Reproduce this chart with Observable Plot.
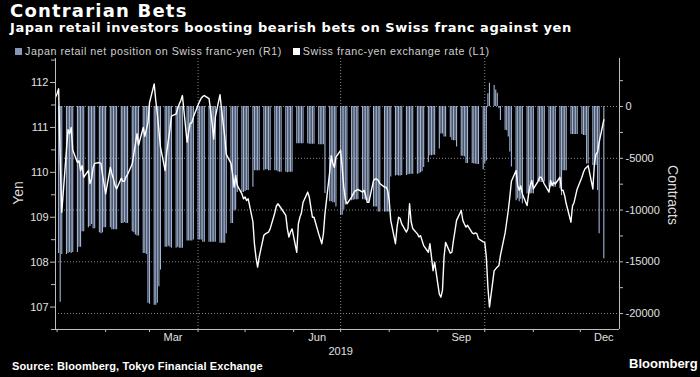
<!DOCTYPE html>
<html><head><meta charset="utf-8">
<script src="https://cdn.jsdelivr.net/npm/d3@7"></script>
<script src="https://cdn.jsdelivr.net/npm/@observablehq/plot@0.6"></script>
<style>
body{margin:0;background:#000;width:700px;height:377px;overflow:hidden;position:relative;font-family:"Liberation Sans",Arial,sans-serif;}
#title{position:absolute;left:10px;top:1px;font:bold 18px/20px "DejaVu Sans",sans-serif;letter-spacing:1.2px;color:#fff;white-space:nowrap;}
#subtitle{position:absolute;left:10px;top:21px;font:bold 13px/13px "DejaVu Sans",sans-serif;letter-spacing:0.55px;color:#fff;white-space:nowrap;}
#legend{position:absolute;left:15px;top:46px;font:10.7px/10.7px "Liberation Sans",sans-serif;letter-spacing:0.55px;color:#d0d0d0;white-space:nowrap;}
#legend .sw{display:inline-block;width:7px;height:7px;margin-right:3px;vertical-align:0px;}
#legend .item{margin-right:11px;}
#chart{position:absolute;left:0;top:0;}
#yen{position:absolute;left:18px;top:193px;transform:translate(-50%,-50%) rotate(-90deg);font:14px "Liberation Sans",sans-serif;color:#ddd;white-space:nowrap;}
#contracts{position:absolute;left:673px;top:195px;transform:translate(-50%,-50%) rotate(90deg);font:14px "Liberation Sans",sans-serif;color:#ddd;white-space:nowrap;}
#source{position:absolute;left:12px;top:361px;font:bold 11px/11px "Liberation Sans",sans-serif;letter-spacing:0.12px;color:#fff;white-space:nowrap;}
#brand{position:absolute;left:629px;top:357px;font:bold 13px/13px "Liberation Sans",sans-serif;color:#fff;white-space:nowrap;}
</style></head>
<body>
<div id="chart"></div>
<div id="title">Contrarian Bets</div>
<div id="subtitle">Japan retail investors boosting bearish bets on Swiss franc against yen</div>
<div id="legend"><span class="item"><span class="sw" style="background:#8797b8"></span>Japan retail net position on Swiss franc-yen (R1)</span><span class="item"><span class="sw" style="background:#fff"></span>Swiss franc-yen exchange rate (L1)</span></div>
<div id="yen">Yen</div>
<div id="contracts">Contracts</div>
<div id="source">Source: Bloomberg, Tokyo Financial Exchange</div>
<div id="brand">Bloomberg</div>
<script>
// Week start (Monday) dates; each row below holds Mon..Fri values
const weekStarts = ["2018-12-31","2019-01-07","2019-01-14","2019-01-21","2019-01-28","2019-02-04","2019-02-11","2019-02-18","2019-02-25","2019-03-04","2019-03-11","2019-03-18","2019-03-25","2019-04-01","2019-04-08","2019-04-15","2019-04-22","2019-04-29","2019-05-06","2019-05-13","2019-05-20","2019-05-27","2019-06-03","2019-06-10","2019-06-17","2019-06-24","2019-07-01","2019-07-08","2019-07-15","2019-07-22","2019-07-29","2019-08-05","2019-08-12","2019-08-19","2019-08-26","2019-09-02","2019-09-09","2019-09-16","2019-09-23","2019-09-30","2019-10-07","2019-10-14","2019-10-21","2019-10-28","2019-11-04","2019-11-11","2019-11-18","2019-11-25","2019-12-02","2019-12-09","2019-12-16"];

// Japan retail net position on Swiss franc-yen (contracts, R1)
const netPosition = [
[null,null,-14200,-18900,-14300],
[-14300,-14200,-14100,-14200,-14100],
[-14100,-13600,-13600,-12100,-12100],
[-11700,-11600,-11400,-11800,-11800],
[-12200,-12300,-12200,-11700,-11700],
[-11700,-11900,-11900,-11900,-11900],
[-11300,-11300,-11200,-11300,-11300],
[-12100,-12200,-12400,-12500,-12500],
[-14200,-14200,-14300,-19000,-19100],
[-19200,-19200,-19000,-17400,-15800],
[-13600,-13600,-13500,-13600,-13700],
[-13700,-13600,-13700,-13700,-13700],
[-13000,-13000,-13000,-13000,-12900],
[-12900,-12900,-12900,-13100,-13100],
[-13100,-13100,-13100,-13100,-13100],
[-13200,-13200,-13200,-13200,-12300],
[-11300,-11300,-10100,-10000,-8300],
[-8300,-8300,-8200,-8100,-8100],
[-7800,-6200,-6200,-6200,-6200],
[-6200,-6100,-6100,-6200,-6200],
[-6200,-6200,-6300,-6350,-6350],
[-6350,-6400,-6350,-6350,-6350],
[-3600,-3600,-3600,-3600,-3600],
[-3600,-3650,-3650,-3650,-3650],
[-3700,-3700,-3700,-3700,-8400],
[-9200,-9200,-9300,-9300,-9700],
[-10500,-10500,-10000,-9500,-9100],
[-9100,-9050,-9000,-9000,-9000],
[-9000,-9000,-9050,-9100,-9250],
[-9700,-9700,-9700,-10200,-10200],
[-10200,-10200,-10200,-10200,-6800],
[-6700,-6650,-6700,-6700,-6650],
[-6650,-6600,-6550,-6550,-6550],
[-6550,-6500,-6400,-6300,-5900],
[-5400,-4750,-4750,-4700,-4700],
[-4100,-2650,-2650,-2950,-2950],
[-3000,-3250,-3300,-3300,-3900],
[-4800,-4800,-4850,-5500,-5500],
[-5500,-5550,-5550,-5600,-5600],
[-6100,-5500,-5250,1230,2250],
[2030,1610,1290,-220,-1350],
[-2300,-2350,-2950,-4400,-5850],
[-9100,-8900,-9200,-8950,-9400],
[-8450,-8400,-8450,-8400,-8450],
[-7300,-7300,-7350,-7300,-7300],
[-7800,-7800,-7750,-7800,-7800],
[-7950,-8600,-6200,-6200,-6200],
[-2700,-2700,-2700,-2700,-2700],
[-2700,-2800,-2800,-5550,-5550],
[-5700,-5700,-5700,-8100,-12300],
[-14700,null,null,null,null]
];

// Swiss franc-yen exchange rate (yen, L1)
const chfJpy = [
[111.67,111.75,111.86,110.3,109.11],
[110.5,110.95,110.86,111.0,110.5],
[110.22,110.26,110.04,110.15,109.89],
[110.04,109.75,109.85,110.1,110.2],
[110.22,110.2,109.95,109.74,109.52],
[110.11,109.97,109.85,109.71,109.63],
[109.87,109.8,109.8,109.9,109.95],
[110.19,110.41,110.63,110.86,110.6],
[111.0,110.8,110.95,111.1,111.55],
[111.97,111.6,111.3,110.93,110.56],
[110.04,110.45,110.7,110.95,111.25],
[111.3,111.42,111.52,111.6,111.71],
[110.67,110.9,111.1,111.1,111.23],
[111.5,111.58,111.65,111.69,111.71],
[111.64,111.38,111.08,110.74,111.23],
[111.73,111.4,111.1,110.8,110.4],
[110.2,109.97,109.67,109.93,109.71],
[109.52,109.41,109.45,109.37,109.41],
[108.9,108.4,108.1,107.89,108.11],
[108.6,108.63,108.65,108.67,108.74],
[109.1,109.25,109.3,109.25,109.2],
[109.04,108.74,108.56,108.67,108.74],
[108.22,108.85,109.0,109.1,109.33],
[109.56,109.45,109.22,109.0,109.0],
[108.63,108.52,108.41,108.63,109.08],
[110.0,110.37,110.2,110.11,110.34],
[110.49,110.1,109.67,109.4,109.3],
[109.45,109.52,109.58,109.6,109.62],
[109.56,109.6,109.48,109.33,109.33],
[109.82,109.85,109.85,109.82,109.75],
[109.67,109.67,109.6,109.37,108.93],
[108.41,108.78,109.0,108.97,108.85],
[108.67,108.75,109.3,108.9,108.75],
[108.63,108.56,108.59,108.48,108.37],
[108.22,108.41,108.11,107.81,108.0],
[107.29,107.22,107.37,108.11,108.44],
[108.2,108.22,108.48,108.7,108.93],
[109.15,108.93,108.85,108.78,108.82],
[108.65,108.63,108.65,108.63,108.52],
[108.45,108.44,108.11,107.44,107.0],
[107.81,107.85,107.89,107.92,108.15],
[108.65,108.9,109.15,109.45,109.8],
[110.04,109.7,109.6,109.7,109.52],
[109.26,109.52,109.7,109.82,109.63],
[109.8,109.89,109.89,109.82,109.74],
[109.56,109.82,109.71,109.78,109.74],
[109.89,109.6,109.6,109.48,109.3],
[108.89,109.25,109.33,109.48,109.63],
[109.89,110.0,110.08,110.11,110.15],
[109.63,110.2,110.41,110.45,110.67],
[111.17,null,null,null,null]
];

// Axis ticks and labels
const yenTicks = [107,108,109,110,111,112];
const yenMinorTicks = [106.5,107.5,108.5,109.5,110.5,111.5,112.5];
const contractTicks = [0,-5000,-10000,-15000,-20000];
const contractMinorTicks = [2500,-2500,-7500,-12500,-17500];
const monthTicks = ["2019-01-01","2019-02-01","2019-03-01","2019-04-01","2019-05-01","2019-06-01","2019-07-01","2019-08-01","2019-09-01","2019-10-01","2019-11-01","2019-12-01"];
const monthLabelDates = ["2019-03-16","2019-06-16","2019-09-16","2019-12-16"];
const monthLabels = ["Mar","Jun","Sep","Dec"];
const quarterGrid = ["2019-04-01","2019-07-01","2019-10-01"];
const yearLabelDate = ["2019-07-01"];
const yearLabel = "2019";

const D = s => new Date(s + "T00:00:00Z");
const bars = [], rates = [];
weekStarts.forEach((w, i) => {
  for (let d = 0; d < 5; d++) {
    const date = new Date(D(w).getTime() + d * 864e5);
    if (netPosition[i][d] != null) bars.push({date, value: netPosition[i][d]});
    if (chfJpy[i][d] != null) rates.push({date, value: chfJpy[i][d]});
  }
});

// map contracts (right axis) onto the yen (left axis) scale
const c2y = d3.scaleLinear().domain([0, -20000]).range([111.465, 106.855]);

const axisColor = "#bdbdbd", textColor = "#e0e0e0";
const chart = Plot.plot({
  width: 700, height: 377,
  marginLeft: 55, marginRight: 81, marginTop: 58, marginBottom: 48,
  style: {background: "transparent", color: textColor, fontFamily: "'Liberation Sans', Arial, sans-serif", fontSize: "11px"},
  x: {type: "utc", domain: [D("2018-12-31"), D("2019-12-26")]},
  y: {domain: [106.5, 112.535]},
  marks: [
    Plot.gridY(contractTicks.map(c2y), {stroke: "#8a8a8a", strokeOpacity: 1, strokeDasharray: "1,2"}),
    Plot.gridX(quarterGrid.map(D), {stroke: "#8a8a8a", strokeOpacity: 1, strokeDasharray: "1,2"}),
    Plot.ruleX(bars, {x: "date", y1: () => c2y(0), y2: d => c2y(d.value), stroke: "#a3b6d8", strokeWidth: 1.1}),
    Plot.line(rates, {x: "date", y: "value", stroke: "#ffffff", strokeWidth: 1.4}),
    Plot.ruleX([D("2018-12-31"), D("2019-12-26")], {stroke: axisColor}),
    Plot.ruleY([106.5], {stroke: axisColor}),
    Plot.axisY({anchor: "left", ticks: yenTicks, tickSize: 5, tickPadding: 2, tickFormat: d => String(d), label: null, stroke: axisColor, fill: textColor, fontSize: 11}),
    Plot.axisY({anchor: "left", ticks: yenMinorTicks, tickSize: 4, tickFormat: () => "", label: null, stroke: axisColor}),
    Plot.axisY({anchor: "right", ticks: contractTicks.map(c2y), tickSize: 3, tickPadding: 3, tickFormat: d => String(Math.round(c2y.invert(d) / 100) * 100), label: null, stroke: axisColor, fill: textColor, fontSize: 11}),
    Plot.axisY({anchor: "right", ticks: contractMinorTicks.map(c2y), tickSize: 3, tickFormat: () => "", label: null, stroke: axisColor}),
    Plot.axisX({ticks: monthTicks.map(D), tickSize: 3, tickFormat: () => "", label: null, stroke: axisColor}),
    Plot.axisX({ticks: monthLabelDates.map(D), tickSize: 0, tickPadding: 4, tickFormat: d => monthLabels[monthLabelDates.map(D).findIndex(m => +m === +d)], label: null, fill: textColor, fontSize: 11}),
    Plot.axisX({ticks: yearLabelDate.map(D), tickSize: 0, tickPadding: 18, tickFormat: () => yearLabel, label: null, fill: textColor, fontSize: 11})
  ]
});
document.getElementById("chart").appendChild(chart);
</script>
</body></html>
